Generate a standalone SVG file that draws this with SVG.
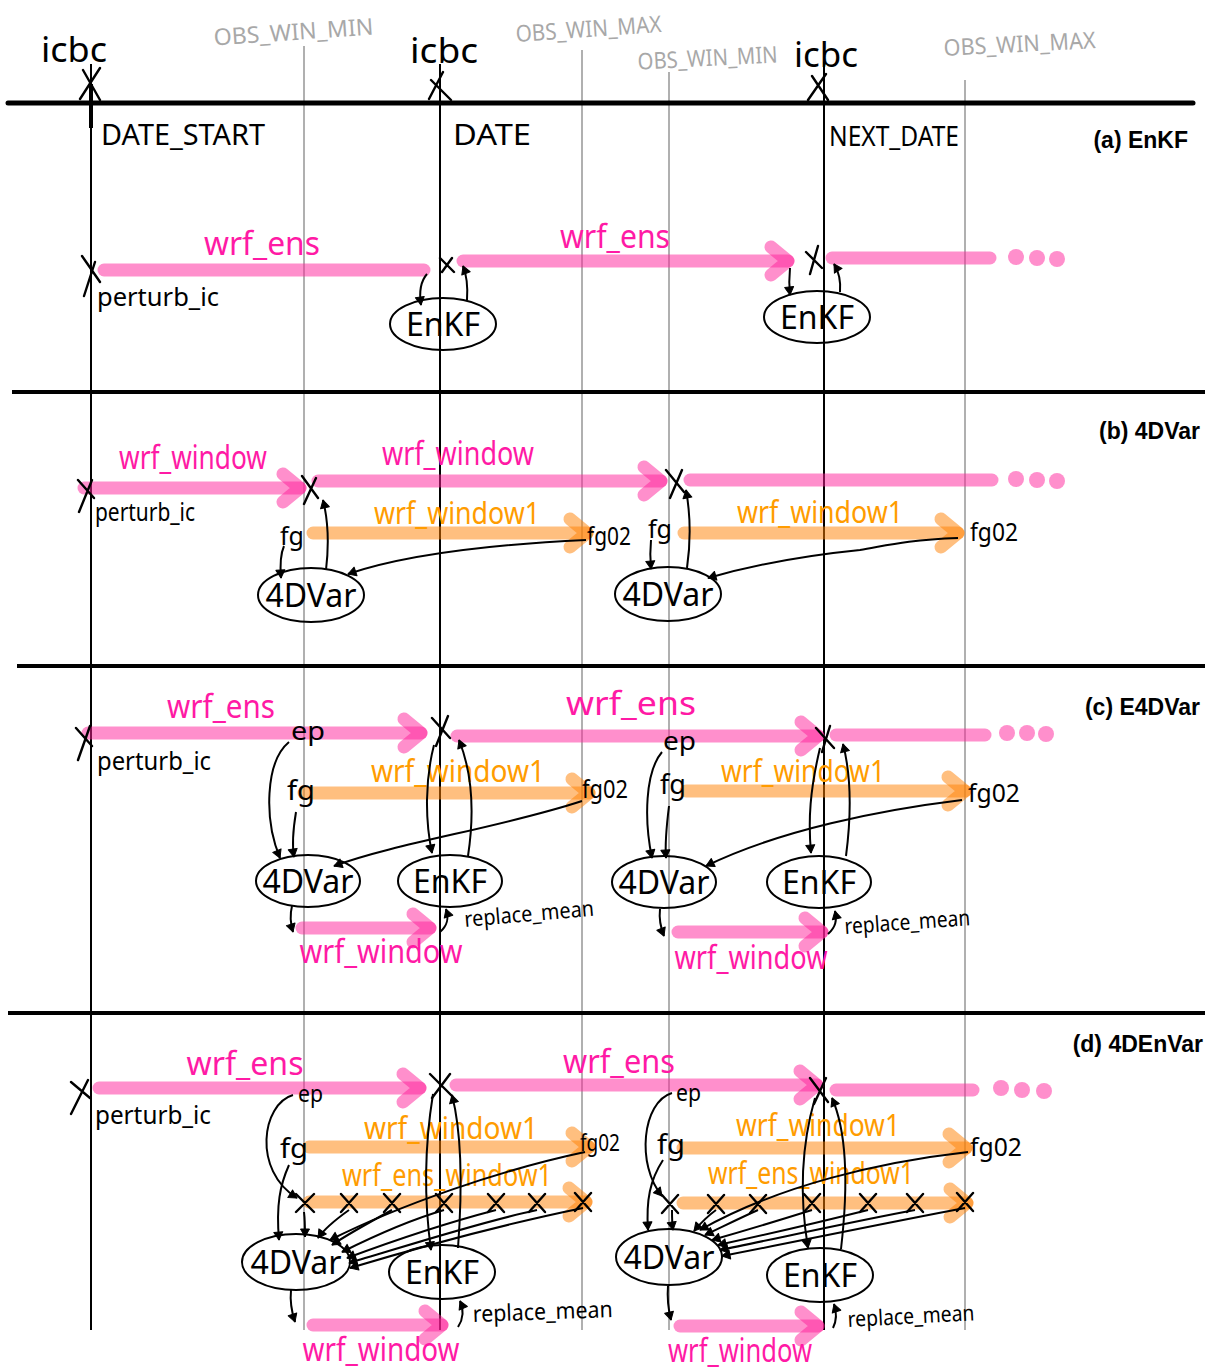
<svg xmlns="http://www.w3.org/2000/svg" width="1211" height="1372" viewBox="0 0 1211 1372">
<defs>
<style>
.bl{stroke:#000;stroke-width:2;fill:none}
.gl{stroke:#b0b0b0;stroke-width:2;fill:none}
.hl{stroke:#000;stroke-width:4;fill:none}
.xm{stroke:#000;stroke-width:2.4;fill:none;stroke-linecap:round}
.pb{stroke:#ff1f9a;stroke-opacity:.5;stroke-width:13;stroke-linecap:round;fill:none}
.pba{stroke:#ff1f9a;stroke-opacity:.5;stroke-width:13;stroke-linecap:round;fill:none;marker-end:url(#pa)}
.oba{stroke:#ff8000;stroke-opacity:.5;stroke-width:13;stroke-linecap:round;fill:none;marker-end:url(#oa)}
.dot{fill:#ff1f9a;fill-opacity:.5}
.t{font-family:"Noto Sans","DejaVu Sans",sans-serif}
.k{fill:#000}
.pk{fill:#ff1aa5;font-size:32px}
.or{fill:#ff9c00;font-size:30px}
.gy{fill:#a8a8a8;font-size:23px}
.sec{font-family:"Liberation Sans",Arial,sans-serif;font-weight:bold;font-size:23px;fill:#000;text-anchor:end}
.node ellipse{fill:none;stroke:#000;stroke-width:2}
.node text{font-family:"Noto Sans","DejaVu Sans",sans-serif;font-size:32px;text-anchor:middle;fill:#000}
.conn path{stroke:#000;stroke-width:2;fill:none;marker-end:url(#ah)}
</style>
<marker id="pa" markerUnits="userSpaceOnUse" markerWidth="40" markerHeight="40" refX="0" refY="0" orient="auto" overflow="visible" viewBox="-20 -20 40 40">
<path d="M-17,-14 L0,0 L-17,14" stroke="#ff1f9a" stroke-opacity=".5" stroke-width="13" stroke-linecap="round" stroke-linejoin="round" fill="none"/>
</marker>
<marker id="oa" markerUnits="userSpaceOnUse" markerWidth="40" markerHeight="40" refX="0" refY="0" orient="auto" overflow="visible" viewBox="-20 -20 40 40">
<path d="M-17,-14 L0,0 L-17,14" stroke="#ff8000" stroke-opacity=".5" stroke-width="13" stroke-linecap="round" stroke-linejoin="round" fill="none"/>
</marker>
<marker id="ah" markerUnits="userSpaceOnUse" markerWidth="14" markerHeight="14" refX="0" refY="0" orient="auto" overflow="visible" viewBox="-10 -7 14 14">
<path d="M-8,-4.5 L0,0 L-8,4.5 Z" fill="#000" stroke="#000" stroke-width="1" stroke-linejoin="round"/>
</marker>
</defs>
<rect width="1211" height="1372" fill="#fff"/>

<!-- timeline grid -->
<g id="grid">
<path class="gl" d="M304,46 V1330 M582,50 V1330 M669,72 V1330 M965,80 V1330"/>
<path class="bl" d="M91,64 V1330 M440,64 V1330 M824,62 V1330"/>
<path d="M91,84 V128" stroke="#000" stroke-width="4"/>
<path d="M8,103 H1193" stroke="#000" stroke-width="5" stroke-linecap="round"/>
<path class="hl" d="M12,392 H1205 M17,666 H1205 M8,1013 H1205"/>
<path class="xm" d="M80,99 L100,68 M83,70 L100,100 M429,99 L443,72 M431,80 L451,100 M808,100 L826,74 M812,76 L828,100"/>
</g>

<g id="top-labels" class="t">
<text class="k" x="74" y="62" font-size="34" text-anchor="middle" textLength="66" lengthAdjust="spacingAndGlyphs">icbc</text>
<text class="k" x="444" y="63" font-size="34" text-anchor="middle" textLength="68" lengthAdjust="spacingAndGlyphs">icbc</text>
<text class="k" x="826" y="67" font-size="34" text-anchor="middle" textLength="64" lengthAdjust="spacingAndGlyphs">icbc</text>
<text class="gy" x="294" y="40" text-anchor="middle" transform="rotate(-4 294 40)" textLength="160" lengthAdjust="spacingAndGlyphs">OBS_WIN_MIN</text>
<text class="gy" x="589" y="37" text-anchor="middle" transform="rotate(-4 589 37)" textLength="146" lengthAdjust="spacingAndGlyphs">OBS_WIN_MAX</text>
<text class="gy" x="708" y="66" text-anchor="middle" font-size="21" transform="rotate(-3 708 66)" textLength="140" lengthAdjust="spacingAndGlyphs">OBS_WIN_MIN</text>
<text class="gy" x="1020" y="52" text-anchor="middle" transform="rotate(-3 1020 52)" textLength="152" lengthAdjust="spacingAndGlyphs">OBS_WIN_MAX</text>
<text class="k" x="101" y="145" font-size="29" textLength="164" lengthAdjust="spacingAndGlyphs">DATE_START</text>
<text class="k" x="453" y="145" font-size="29" textLength="78" lengthAdjust="spacingAndGlyphs">DATE</text>
<text class="k" x="829" y="146" font-size="27" textLength="130" lengthAdjust="spacingAndGlyphs">NEXT_DATE</text>
</g>

<text class="sec" x="1188" y="148">(a) EnKF</text>
<text class="sec" x="1200" y="439">(b) 4DVar</text>
<text class="sec" x="1200" y="715">(c) E4DVar</text>
<text class="sec" x="1203" y="1052">(d) 4DEnVar</text>

<!-- ===== (a) EnKF ===== -->
<g id="a-flow">
<path class="pb" d="M104,270 H424"/>
<path class="pba" d="M463,261 H788"/>
<path class="pb" d="M832,258 H990"/>
<circle class="dot" cx="1016" cy="257" r="8"/><circle class="dot" cx="1037" cy="258" r="8"/><circle class="dot" cx="1057" cy="259" r="8"/>
<path class="xm" d="M82,256 L100,282 M95,262 L84,296 M440,258 L454,272 M452,258 L442,272 M806,252 L822,268 M818,246 L810,274"/>
<g class="t">
<text class="pk" x="262" y="255" text-anchor="middle" textLength="116" lengthAdjust="spacingAndGlyphs">wrf_ens</text>
<text class="pk" x="615" y="248" text-anchor="middle" textLength="110" lengthAdjust="spacingAndGlyphs">wrf_ens</text>
<text class="k" x="97" y="306" font-size="26" textLength="122" lengthAdjust="spacingAndGlyphs">perturb_ic</text>
</g>
</g>
<g id="a-enkf1" class="node"><ellipse cx="443" cy="324" rx="53" ry="26"/><text x="443" y="336">EnKF</text></g>
<g id="a-enkf2" class="node"><ellipse cx="817" cy="317" rx="53" ry="26"/><text x="817" y="329">EnKF</text></g>

<!-- ===== (b) 4DVar ===== -->
<g id="b-flow">
<path class="pba" d="M84,488 H300"/>
<path class="pba" d="M318,481 H661"/>
<path class="pb" d="M690,480 H992"/>
<circle class="dot" cx="1016" cy="479" r="8"/><circle class="dot" cx="1037" cy="480" r="8"/><circle class="dot" cx="1057" cy="481" r="8"/>
<path class="oba" d="M313,533 H587"/>
<path class="oba" d="M684,533 H958"/>
<path class="xm" d="M78,480 L94,498 M92,480 L79,512 M302,476 L318,498 M316,478 L304,504 M666,470 L684,492 M682,470 L670,498"/>
<g class="t">
<text class="pk" x="193" y="469" text-anchor="middle" textLength="148" lengthAdjust="spacingAndGlyphs">wrf_window</text>
<text class="pk" x="458" y="465" text-anchor="middle" textLength="152" lengthAdjust="spacingAndGlyphs">wrf_window</text>
<text class="k" x="95" y="521" font-size="26" textLength="100" lengthAdjust="spacingAndGlyphs">perturb_ic</text>
<text class="or" x="457" y="524" text-anchor="middle" textLength="166" lengthAdjust="spacingAndGlyphs">wrf_window1</text>
<text class="or" x="820" y="523" text-anchor="middle" textLength="166" lengthAdjust="spacingAndGlyphs">wrf_window1</text>
<text class="k" x="280" y="545" font-size="26" textLength="24" lengthAdjust="spacingAndGlyphs">fg</text>
<text class="k" x="587" y="545" font-size="26" textLength="44" lengthAdjust="spacingAndGlyphs">fg02</text>
<text class="k" x="648" y="538" font-size="26" textLength="24" lengthAdjust="spacingAndGlyphs">fg</text>
<text class="k" x="970" y="541" font-size="26" textLength="48" lengthAdjust="spacingAndGlyphs">fg02</text>
</g>
</g>
<g id="b-4dvar1" class="node"><ellipse cx="311" cy="595" rx="53" ry="27"/><text x="311" y="607">4DVar</text></g>
<g id="b-4dvar2" class="node"><ellipse cx="668" cy="594" rx="53" ry="27"/><text x="668" y="606">4DVar</text></g>

<!-- ===== (c) E4DVar ===== -->
<g id="c-flow">
<path class="pba" d="M88,733 H421"/>
<path class="pba" d="M457,736 H818"/>
<path class="pb" d="M836,735 H985"/>
<circle class="dot" cx="1007" cy="733" r="8"/><circle class="dot" cx="1027" cy="733" r="8"/><circle class="dot" cx="1046" cy="734" r="8"/>
<path class="oba" d="M304,793 H589"/>
<path class="oba" d="M686,791 H965"/>
<path class="pba" d="M302,928 H430"/>
<path class="pba" d="M678,932 H822"/>
<path class="xm" d="M76,728 L92,746 M90,726 L78,760 M432,718 L450,738 M448,716 L436,746 M816,728 L834,748 M830,726 L822,752"/>
<g class="t">
<text class="pk" x="221" y="718" text-anchor="middle" textLength="108" lengthAdjust="spacingAndGlyphs">wrf_ens</text>
<text class="pk" x="631" y="715" text-anchor="middle" textLength="130" lengthAdjust="spacingAndGlyphs">wrf_ens</text>
<text class="k" x="97" y="770" font-size="26" textLength="114" lengthAdjust="spacingAndGlyphs">perturb_ic</text>
<text class="k" x="291" y="740" font-size="26" textLength="34" lengthAdjust="spacingAndGlyphs">ep</text>
<text class="k" x="663" y="750" font-size="25" textLength="33" lengthAdjust="spacingAndGlyphs">ep</text>
<text class="or" x="458" y="782" text-anchor="middle" textLength="174" lengthAdjust="spacingAndGlyphs">wrf_window1</text>
<text class="or" x="803" y="782" text-anchor="middle" textLength="164" lengthAdjust="spacingAndGlyphs">wrf_window1</text>
<text class="k" x="287" y="800" font-size="28" textLength="28" lengthAdjust="spacingAndGlyphs">fg</text>
<text class="k" x="582" y="798" font-size="26" textLength="46" lengthAdjust="spacingAndGlyphs">fg02</text>
<text class="k" x="660" y="794" font-size="28" textLength="26" lengthAdjust="spacingAndGlyphs">fg</text>
<text class="k" x="968" y="802" font-size="26" textLength="52" lengthAdjust="spacingAndGlyphs">fg02</text>
<text class="pk" x="381" y="963" text-anchor="middle" textLength="163" lengthAdjust="spacingAndGlyphs">wrf_window</text>
<text class="pk" x="751" y="969" text-anchor="middle" textLength="153" lengthAdjust="spacingAndGlyphs">wrf_window</text>
<text class="k" x="465" y="927" font-size="22" transform="rotate(-5 465 927)" textLength="130" lengthAdjust="spacingAndGlyphs">replace_mean</text>
<text class="k" x="845" y="934" font-size="22" transform="rotate(-4 845 934)" textLength="126" lengthAdjust="spacingAndGlyphs">replace_mean</text>
</g>
</g>
<g id="c-4dvar1" class="node"><ellipse cx="308" cy="881" rx="52" ry="26"/><text x="308" y="893">4DVar</text></g>
<g id="c-enkf1" class="node"><ellipse cx="450" cy="881" rx="52" ry="26"/><text x="450" y="893">EnKF</text></g>
<g id="c-4dvar2" class="node"><ellipse cx="664" cy="882" rx="52" ry="26"/><text x="664" y="894">4DVar</text></g>
<g id="c-enkf2" class="node"><ellipse cx="819" cy="882" rx="52" ry="26"/><text x="819" y="894">EnKF</text></g>

<!-- ===== (d) 4DEnVar ===== -->
<g id="d-flow">
<path class="pba" d="M99,1088 H420"/>
<path class="pba" d="M456,1085 H817"/>
<path class="pb" d="M836,1090 H973"/>
<circle class="dot" cx="1001" cy="1088" r="8"/><circle class="dot" cx="1022" cy="1090" r="8"/><circle class="dot" cx="1044" cy="1091" r="8"/>
<path class="oba" d="M309,1147 H589"/>
<path class="oba" d="M309,1202 H586"/>
<path class="oba" d="M683,1148 H966"/>
<path class="oba" d="M683,1203 H967"/>
<path class="pba" d="M313,1325 H442"/>
<path class="pba" d="M680,1326 H818"/>
<path class="xm" d="M71,1082 L90,1098 M88,1080 L71,1114 M430,1074 L452,1096 M450,1074 L432,1098 M810,1078 L828,1102 M826,1078 L814,1104"/>
<path class="xm" d="M296,1194 L314,1212 M314,1194 L296,1212 M341,1194 L357,1212 M357,1194 L341,1212 M384,1194 L400,1212 M400,1194 L384,1212 M436,1194 L452,1212 M452,1194 L436,1212 M488,1194 L504,1212 M504,1194 L488,1212 M529,1194 L545,1212 M545,1194 L529,1212 M575,1193 L591,1211 M591,1193 L575,1211"/>
<path class="xm" d="M662,1195 L678,1213 M678,1195 L662,1213 M708,1195 L724,1213 M724,1195 L708,1213 M750,1195 L766,1213 M766,1195 L750,1213 M804,1194 L820,1212 M820,1194 L804,1212 M860,1194 L876,1212 M876,1194 L860,1212 M907,1194 L923,1212 M923,1194 L907,1212 M957,1193 L973,1211 M973,1193 L957,1211"/>
<g class="t">
<text class="pk" x="245" y="1075" text-anchor="middle" textLength="117" lengthAdjust="spacingAndGlyphs">wrf_ens</text>
<text class="pk" x="619" y="1073" text-anchor="middle" textLength="112" lengthAdjust="spacingAndGlyphs">wrf_ens</text>
<text class="k" x="95" y="1124" font-size="26" textLength="116" lengthAdjust="spacingAndGlyphs">perturb_ic</text>
<text class="k" x="298" y="1102" font-size="24" textLength="25" lengthAdjust="spacingAndGlyphs">ep</text>
<text class="k" x="676" y="1101" font-size="24" textLength="25" lengthAdjust="spacingAndGlyphs">ep</text>
<text class="or" x="451" y="1139" text-anchor="middle" textLength="174" lengthAdjust="spacingAndGlyphs">wrf_window1</text>
<text class="or" x="447" y="1186" text-anchor="middle" textLength="210" lengthAdjust="spacingAndGlyphs">wrf_ens_window1</text>
<text class="or" x="818" y="1136" text-anchor="middle" textLength="164" lengthAdjust="spacingAndGlyphs">wrf_window1</text>
<text class="or" x="811" y="1184" text-anchor="middle" textLength="206" lengthAdjust="spacingAndGlyphs">wrf_ens_window1</text>
<text class="k" x="280" y="1158" font-size="28" textLength="28" lengthAdjust="spacingAndGlyphs">fg</text>
<text class="k" x="580" y="1151" font-size="24" textLength="40" lengthAdjust="spacingAndGlyphs">fg02</text>
<text class="k" x="657" y="1154" font-size="28" textLength="28" lengthAdjust="spacingAndGlyphs">fg</text>
<text class="k" x="970" y="1156" font-size="26" textLength="52" lengthAdjust="spacingAndGlyphs">fg02</text>
<text class="pk" x="381" y="1361" text-anchor="middle" textLength="157" lengthAdjust="spacingAndGlyphs">wrf_window</text>
<text class="pk" x="740" y="1362" text-anchor="middle" font-size="30" textLength="144" lengthAdjust="spacingAndGlyphs">wrf_window</text>
<text class="k" x="473" y="1322" font-size="23" transform="rotate(-2 473 1322)" textLength="140" lengthAdjust="spacingAndGlyphs">replace_mean</text>
<text class="k" x="848" y="1327" font-size="22" transform="rotate(-3 848 1327)" textLength="127" lengthAdjust="spacingAndGlyphs">replace_mean</text>
</g>
</g>
<g id="d-4dvar1" class="node"><ellipse cx="296" cy="1262" rx="54" ry="28"/><text x="296" y="1274">4DVar</text></g>
<g id="d-enkf1" class="node"><ellipse cx="442" cy="1272" rx="53" ry="27"/><text x="442" y="1284">EnKF</text></g>
<g id="d-4dvar2" class="node"><ellipse cx="669" cy="1257" rx="53" ry="28"/><text x="669" y="1269">4DVar</text></g>
<g id="d-enkf2" class="node"><ellipse cx="820" cy="1275" rx="53" ry="27"/><text x="820" y="1287">EnKF</text></g>

<!-- connectors -->
<g id="connectors" class="conn">
<!-- (a) -->
<path d="M427,274 C420,282 419,292 421,305"/>
<path d="M467,300 C468,286 467,276 463,266"/>
<path d="M790,268 C789,278 789,286 790,295"/>
<path d="M840,292 C841,280 839,272 834,264"/>
<!-- (b) -->
<path d="M284,546 C280,555 280,565 281,578"/>
<path d="M326,570 C329,545 328,520 323,500"/>
<path d="M586,540 C500,544 410,553 348,574"/>
<path d="M651,540 C650,550 650,558 651,569"/>
<path d="M687,568 C691,540 690,512 686,490"/>
<path d="M958,538 C905,540 885,546 860,550 C800,556 750,566 708,578"/>
<!-- (c) -->
<path d="M289,742 C265,762 264,820 280,858"/>
<path d="M296,812 C293,830 292,845 294,857"/>
<path d="M582,801 C500,828 400,842 334,866"/>
<path d="M434,745 C425,780 425,820 432,853"/>
<path d="M468,856 C475,810 471,770 459,740"/>
<path d="M292,906 C290,914 290,922 293,932"/>
<path d="M440,932 C448,925 449,918 446,909"/>
<path d="M662,752 C645,772 644,820 652,858"/>
<path d="M669,806 C666,830 665,845 666,858"/>
<path d="M962,800 C880,810 780,830 706,866"/>
<path d="M820,748 C810,790 808,820 811,853"/>
<path d="M846,856 C852,810 851,775 843,744"/>
<path d="M660,909 C659,918 660,926 664,936"/>
<path d="M828,934 C836,927 837,920 835,911"/>
<!-- (d) group 1 -->
<path d="M293,1095 C262,1104 252,1170 297,1198"/>
<path d="M289,1165 C280,1185 276,1205 279,1240"/>
<path d="M304,1212 C305,1220 305,1228 305,1237"/>
<path d="M349,1210 C335,1220 325,1228 318,1238"/>
<path d="M392,1210 C370,1222 345,1236 332,1245"/>
<path d="M444,1210 C410,1220 370,1238 342,1252"/>
<path d="M496,1210 C450,1222 390,1242 347,1258"/>
<path d="M537,1210 C480,1222 400,1248 349,1263"/>
<path d="M583,1208 C500,1225 410,1250 350,1268"/>
<path d="M585,1152 C500,1170 400,1205 330,1240"/>
<path d="M433,1094 C424,1150 424,1200 431,1250"/>
<path d="M458,1248 C463,1180 461,1130 452,1095"/>
<path d="M291,1290 C290,1300 291,1310 295,1322"/>
<path d="M458,1327 C464,1318 464,1310 460,1301"/>
<!-- (d) group 2 -->
<path d="M672,1093 C642,1102 636,1165 662,1196"/>
<path d="M663,1160 C650,1180 646,1200 648,1230"/>
<path d="M672,1210 C672,1218 672,1224 673,1230"/>
<path d="M716,1210 C705,1218 700,1224 694,1231"/>
<path d="M758,1210 C740,1218 720,1228 705,1235"/>
<path d="M812,1210 C780,1220 740,1232 712,1240"/>
<path d="M868,1210 C820,1222 760,1236 718,1245"/>
<path d="M915,1210 C850,1222 770,1240 720,1250"/>
<path d="M965,1208 C880,1224 780,1245 722,1256"/>
<path d="M968,1152 C880,1162 780,1185 700,1230"/>
<path d="M815,1098 C800,1150 800,1200 808,1248"/>
<path d="M841,1249 C849,1180 846,1130 832,1098"/>
<path d="M668,1286 C667,1298 668,1308 671,1320"/>
<path d="M833,1328 C837,1320 837,1313 834,1304"/>
</g>
</svg>
